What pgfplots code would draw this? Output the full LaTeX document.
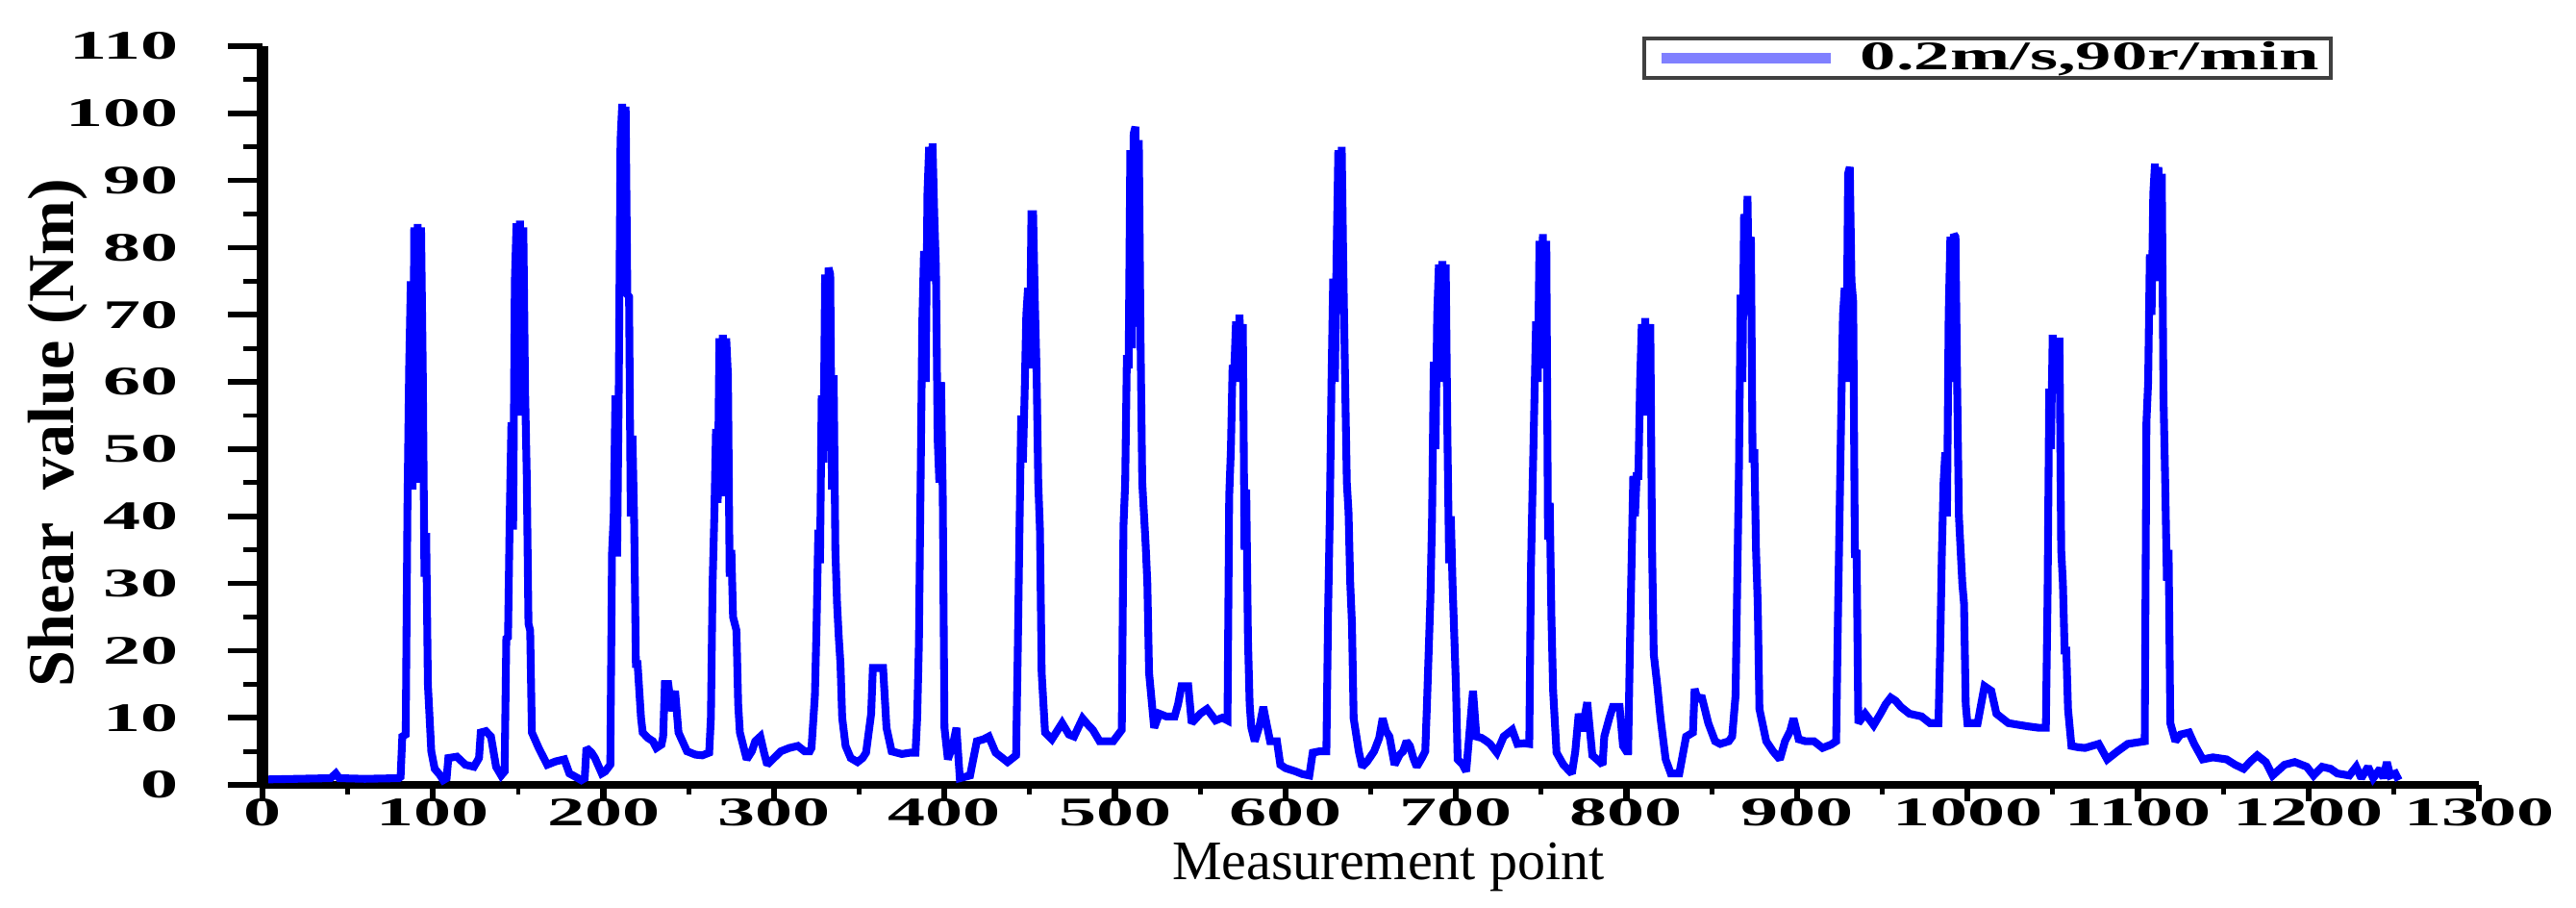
\documentclass[border=0pt]{standalone}
\usepackage{fontspec}
\setmainfont{Liberation Serif}
\usepackage{graphicx}
\usepackage{pgfplots}
\pgfplotsset{compat=1.18}
\pgfplotsset{/pgf/number format/1000 sep={}, /pgf/number format/assume math mode=true}
\begin{document}
\begin{tikzpicture}
\path[use as bounding box] (-2.73,-1.27) rectangle (24.06,8.16);
\begin{axis}[
  at={(0,0)}, anchor=south west,
  scale only axis, width=23.05cm, height=7.68cm,
  xmin=0, xmax=1300, ymin=0, ymax=110,
  axis x line=bottom, axis y line=none,
  x axis line style={-, line width=2pt},
  xtick={0,100,...,1300}, minor x tick num=1,
  tick align=outside,
  major tick length=0.17cm, minor tick length=0.1cm,
  every tick/.style={black, line width=1.8pt},
  every minor tick/.style={black, line width=1.4pt},
  xticklabel={\scalebox{1.85}[1]{\pgfmathprintnumber{\tick}}},
  xticklabel style={font=\fontsize{12}{12}\selectfont\bfseries, anchor=center, yshift=-0.12cm},
  xlabel={Measurement point},
  every axis x label/.style={at={(rel axis cs:0.508,-0.128)}, anchor=base, font=\fontsize{16.5}{18}\selectfont},
  legend style={at={(rel axis cs:0.934,1.013)}, anchor=north east, draw=black!75, line width=1.2pt,
    inner xsep=0.12cm, inner ysep=0.03cm, column sep=0.26cm,
    nodes={inner sep=0pt}, font=\fontsize{12}{12}\selectfont\bfseries},
  legend image code/.code={\draw[#1, line width=3pt, blue!50] (0cm,0cm) -- (1.76cm,0cm);},
]
\addplot[blue, line width=2.3pt, line join=miter, miter limit=2] coordinates {
(0,0.8) (20,0.9) (40,1.0) (43,1.7) (45,1.0) (60,0.9) (80,1.0)
(81,1.2) (82,7.2) (84,7.5) (85,41) (86,62) (87,75) (88,44) (89,83) (90,62) (91,83.5) (92,45) (93,83) (94,62) (95,31) (96,37.5) (97,15) (99,5) (101,2.4) (104,1.5) (106,0.7) (108,1) (109,4) (114,4.2) (119,3) (124,2.7) (127,4) (128,7.8) (131,8) (134,7.2) (137,2.7) (140,1.4) (142,2)
(143,21.8) (144,22) (145,40) (146,54) (147,38) (148,75) (149,83.6) (150,55) (151,84) (152,65) (153,83) (154,59) (155,46) (156,24) (157,23) (158,7.8) (162,5.5) (165,4) (167,3) (172,3.5) (177,3.8) (180,1.7) (185,1) (187,0.7) (189,1) (190,5.5) (193,4.8) (195,4) (199,1.7) (201,2) (204,3)
(205,34.5) (206,40) (207,58) (208,34) (209,60) (210,96) (211,101.4) (212,78) (213,101) (214,73) (215,72.7) (216,40) (217,52) (218,39) (219,18) (220,18) (222,10) (223,7.8) (226,7) (229,6.5) (231,5.5) (234,6) (235,7.2) (236,15) (238,15) (240,11) (242,14) (244,7.8) (249,5) (254,4.5) (258,4.4) (262,4.8) (263,10)
(264,30) (265,40) (266,53) (267,42) (268,66.5) (269,43) (270,67) (271,60) (272,66.5) (273,61) (274,31) (275,35) (276,25) (278,23) (279,12) (280,7.8) (284,3.8) (287,5) (289,6.5) (292,7.2) (294,5) (296,3) (300,4) (304,5) (309,5.5) (314,5.8) (318,5) (321,5) (322,5.5)
(324,13.3) (325,24) (326,38) (327,33) (328,58) (329,48) (330,76) (331,60) (332,77) (333,76) (334,44) (335,61) (336,35) (337,27) (338,22) (339,18) (340,10) (342,5.8) (345,4) (349,3.4) (352,4)
(354,4.8) (357,10.6) (358,17.4) (361,17.4) (364,17.4) (366,8.5) (369,5) (375,4.6) (380,4.8) (383,4.8)
(384,10) (385,21) (386,45) (387,69) (388,79.5) (389,60) (390,88) (391,95) (392,75) (393,95.5) (394,85) (395,77) (396,51.5) (397,45) (398,60) (399,43) (400,8.5) (402,3.8) (405,6) (407,8.5) (409,1) (412,1.2) (415,1.4) (419,6.5) (423,6.8) (426,7.2) (430,4.8) (437,3.4) (442,4.4)
(443,20) (444,38) (445,55) (446,48) (447,58) (448,70) (449,74) (450,62) (451,85) (452,85) (453,72) (454,62) (455,45) (456,38) (457,16.7) (459,7.8) (463,6.8) (469,9.2) (473,7.5) (476,7.2) (481,9.9) (484,9) (487,8.2) (491,6.5) (499,6.5) (504,8.2)
(505,38.6) (506,45) (507,64) (508,62) (509,94.5) (510,65) (511,97) (512,98) (513,72) (514,96) (515,66.5) (516,45) (518,35.8) (519,30) (520,16.7) (523,8.5) (526,10.6) (530,10.2) (535,10.2) (537,12) (539,14.7) (543,14.7) (545,9.2) (550,10.6) (554,11.3) (559,9.6) (563,10) (566,9.6)
(567,43) (568,50) (569,62.5) (570,62) (571,69) (572,60) (573,70) (574,64) (575,68.6) (576,35) (577,44) (578,21.8) (579,12) (580,8.5) (582,6.5) (585,9) (587,11.6) (589,9) (591,6.5) (595,6.5) (597,3) (600,2.5) (606,2) (610,1.6) (614,1.4) (616,4.8) (620,5) (624,5)
(625,25.6) (626,40) (627,60) (628,75.4) (629,60) (630,79) (631,94.5) (632,80) (633,95) (634,76) (635,60) (636,45) (637,40.6) (638,30) (639,24) (640,9.9) (643,5) (645,2.7) (648,3.5) (652,5) (655,7) (657,9.9) (659,8) (661,7.2) (664,3) (667,4.5) (669,5) (671,6.5) (673,5.8) (675,4) (677,2.7) (680,4) (682,5)
(683,12) (685,27.6) (686,40) (687,63) (688,50) (689,70) (690,77.5) (691,60) (692,78) (693,70) (694,77.5) (695,52) (696,33) (697,40) (698,30) (700,14.7) (701,3.8) (704,3) (706,2) (708,8) (710,14) (712,7.2) (715,7) (718,6.5)
(720,6.1) (724,4.8) (728,7.2) (733,8.2) (736,6.1) (740,6.2) (743,6.1)
(744,32.4) (745,45) (746,57) (747,69) (748,60) (749,81) (750,70) (751,82) (752,62) (753,81) (754,36.5) (755,42) (756,25) (757,14) (759,4.8) (763,3) (768,1.7) (770,5) (772,10.6) (774,8) (777,12.3) (780,4.4) (784,3.5) (786,3) (787,7.2) (790,10) (792,11.6) (796,11.6) (798,5.8) (800,5) (801,5)
(802,20) (804,46) (805,40) (806,46) (807,46) (808,60) (809,68.6) (810,55) (811,69.5) (812,60) (814,68.6) (815,35.8) (816,19.5) (818,15) (820,9.9) (823,3.8) (826,1.7) (831,1.7) (835,7.2) (839,7.8) (840,14.3) (842,12.5) (844,13.3) (848,9.2) (852,6.5) (855,6.1) (860,6.5) (862,7.2) (864,13.3)
(866,47.4) (867,73) (868,60) (869,85) (870,75) (871,87.7) (872,70) (873,81.6) (874,48) (875,50) (876,35) (877,27) (878,11.3) (882,6.5) (886,5) (890,3.8) (893,6.5) (896,8) (898,9.9) (901,6.8) (905,6.5) (910,6.5) (915,5.5) (920,6) (923,6.5)
(924,24) (925,40) (926,56) (927,70) (928,74) (929,60) (930,91) (931,92) (932,75) (933,72) (934,33.8) (935,35) (936,9.2) (940,10.6) (945,8.9) (949,10.6) (952,12) (955,13) (958,12.5) (961,11.6) (966,10.6) (973,10.2) (978,9.2) (983,9.2)
(984,20) (985,34.5) (986,45) (987,49.5) (988,40) (989,70) (990,81.6) (991,60) (992,82) (993,81.6) (994,59) (995,40) (996,35) (997,30) (998,27) (999,12) (1000,9.2) (1006,9.2) (1010,14.7) (1014,14) (1017,10.6) (1024,9.2) (1031,8.9) (1036,8.7) (1042,8.5) (1046,8.5)
(1047,28) (1048,59) (1049,50) (1050,67) (1051,60) (1052,66) (1053,66) (1054,66) (1055,35) (1056,30) (1057,20) (1058,20) (1059,11.3) (1061,5.8) (1065,5.6) (1069,5.5) (1073,5.8) (1077,6.1) (1082,3.8) (1088,5) (1094,6.1) (1099,6.3) (1104,6.5)
(1105,54) (1106,60) (1107,79) (1108,70) (1109,88) (1110,92.5) (1111,80) (1112,92) (1113,75) (1114,91) (1115,57.7) (1116,45) (1117,30.4) (1118,35) (1119,9.2) (1122,6.5) (1125,7.5) (1130,7.8) (1133,6.1) (1138,3.8) (1144,4.1) (1152,3.8) (1157,3) (1162,2.4) (1166,3.5) (1170,4.4) (1175,3.4) (1179,1.4) (1186,3) (1192,3.4) (1199,2.7) (1203,1.4) (1208,2.7) (1213,2.4) (1217,1.7) (1224,1.4) (1228,2.7) (1231,1) (1235,2.7) (1238,1) (1242,2.4) (1244,1) (1246,3.4) (1248,1.4) (1251,1.7) (1253,0.7)
};
\addlegendentry{\scalebox{1.77}[1]{0.2m/s,90r/min}}
\end{axis}
\begin{axis}[
  at={(0,0)}, anchor=south west,
  scale only axis, width=23.05cm, height=7.68cm,
  xmin=0, xmax=1300, ymin=0, ymax=110,
  axis y line=left, axis x line=none,
  y axis line style={-, line width=3.6pt},
  ytick={0,10,...,110}, minor y tick num=1,
  tick align=outside,
  major tick length=0.36cm, minor tick length=0.2cm,
  every tick/.style={black, line width=1.6pt},
  every minor tick/.style={black, line width=1.4pt},
  yticklabel={\scalebox{1.85}[1]{\pgfmathprintnumber{\tick}}},
  yticklabel style={font=\fontsize{12}{12}\selectfont\bfseries, anchor=east, xshift=-0.39cm},
  ylabel={Shear\ \ value (Nm)},
  every axis y label/.style={at={(rel axis cs:-0.0924,0.4766)}, rotate=90, anchor=center, font=\fontsize{19.4}{21}\selectfont\bfseries},
]
\end{axis}
\end{tikzpicture}
\end{document}
